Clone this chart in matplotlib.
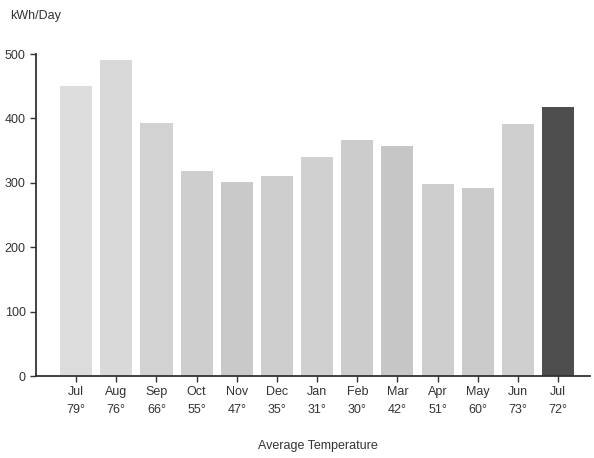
import matplotlib
matplotlib.use("Agg")
import matplotlib.pyplot as plt

months = ["Jul", "Aug", "Sep", "Oct", "Nov", "Dec", "Jan", "Feb", "Mar", "Apr", "May", "Jun", "Jul"]
temps = ["79°", "76°", "66°", "55°", "47°", "35°", "31°", "30°", "42°", "51°", "60°", "73°", "72°"]
kwh = [450, 490, 393, 318, 301, 310, 340, 366, 357, 298, 292, 391, 418]
colors = ["#dcdcdc", "#d9d9d9", "#d2d2d2", "#cecece", "#c9c9c9", "#cdcdcd", "#d0d0d0",
          "#cccccc", "#c6c6c6", "#cdcdcd", "#cbcbcb", "#cfcfcf", "#4e4e4e"]

plt.rcParams['font.family'] = ['Liberation Sans', 'DejaVu Sans']

fig = plt.figure(figsize=(5.94, 4.58), dpi=100)
ax = fig.add_axes([0.0606, 0.179, 0.933, 0.703])

x = list(range(len(kwh)))
ax.bar(x, kwh, width=0.8, color=colors, edgecolor="none")

ax.set_xlim(-1, 12.8)
ax.set_ylim(0, 500)
ax.set_yticks([0, 100, 200, 300, 400, 500])
ax.set_xticks(x)
ax.set_xticklabels([f"{m}\n{t}" for m, t in zip(months, temps)], linespacing=1.7)

for s in ["top", "right"]:
    ax.spines[s].set_visible(False)
for s in ["left", "bottom"]:
    ax.spines[s].set_color("#333333")
    ax.spines[s].set_linewidth(1.3)

ax.tick_params(axis="both", colors="#333333", labelcolor="#333333", labelsize=9,
               length=4, width=1)
ax.tick_params(axis="x", pad=3)

fig.text(0.017, 0.965, "kWh/Day", fontsize=9, color="#333333", va="center", ha="left")
fig.text(0.535, 0.026, "Average Temperature", fontsize=9, color="#333333", va="center", ha="center")

fig.savefig("out.png", dpi=100)
